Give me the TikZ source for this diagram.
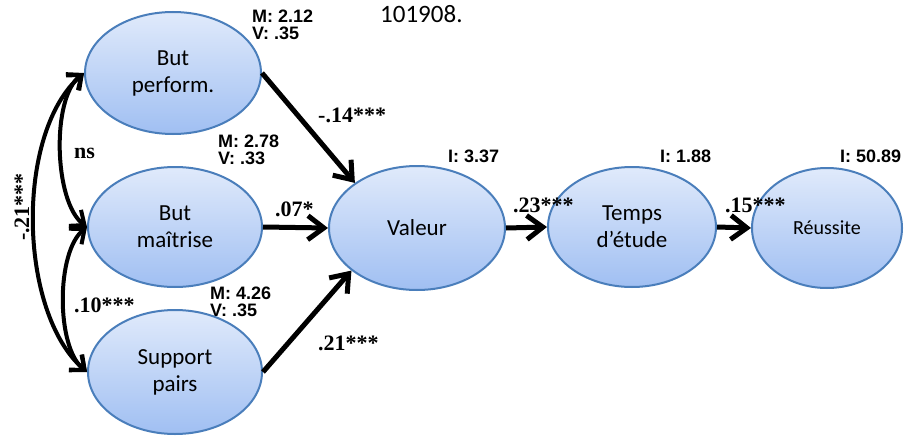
\documentclass[tikz,border=0pt]{standalone}
\usepackage{fontspec}
\setmainfont{Carlito}
\newfontfamily\lsans{Liberation Sans}
\newfontfamily\lserif{Liberation Serif}
\usetikzlibrary{arrows.meta,shapes.geometric}
\definecolor{ellTop}{HTML}{E0EAFB}
\definecolor{ellBot}{HTML}{A0BFF2}
\definecolor{ellLine}{HTML}{4A7EBB}
\begin{document}
\begin{tikzpicture}[x=1pt,y=-1pt,
  latent/.style={ellipse, draw=ellLine, line width=2pt, top color=ellTop, bottom color=ellBot,
    inner sep=0pt, align=center, font=\fontsize{23}{27}\selectfont},
  statlbl/.style={font=\lsans\bfseries\fontsize{18}{17}\selectfont, align=left, inner sep=0pt, anchor=north west},
  coeflbl/.style={font=\lserif\bfseries\fontsize{22}{24}\selectfont, inner sep=0pt, anchor=base west},
  causal/.style={line width=5pt, -{Straight Barb[length=16pt,width=24pt]}},
  covar/.style={line width=4pt, {Straight Barb[length=12pt,width=20pt]}-{Straight Barb[length=12pt,width=20pt]}},
]
\useasboundingbox (0,0) rectangle (904,436);

\node[latent, minimum width=176pt, minimum height=122pt] (bp) at (173,73) {But\\perform.};
\node[latent, minimum width=174pt, minimum height=120pt] (bm) at (175,227) {But\\maîtrise};
\node[latent, minimum width=174pt, minimum height=124pt] (sp) at (175,372) {Support\\pairs};
\node[latent, minimum width=176pt, minimum height=124pt] (val) at (417,228) {Valeur};
\node[latent, minimum width=168pt, minimum height=120pt] (tps) at (632,227) {Temps\\d’étude};
\node[latent, minimum width=150pt, minimum height=120pt, font=\fontsize{20}{24}\selectfont] (reu) at (827,228) {Réussite};

\node[font=\fontsize{25}{30}\selectfont, anchor=base west, inner sep=0pt] (doi) at (380,23) {101908.};

\node[statlbl] (s1) at (252,10) {M: 2.12\\V: .35};
\node[statlbl] (s2) at (218,135) {M: 2.78\\V: .33};
\node[statlbl] (s3) at (210,287) {M: 4.26\\V: .35};
\node[statlbl] (i1) at (448,150) {I: 3.37};
\node[statlbl] (i2) at (660,150) {I: 1.88};
\node[statlbl] (i3) at (840,150) {I: 50.89};

\node[coeflbl] (c1) at (318,122) {-.14***};
\node[coeflbl] (c2) at (275,216) {.07*};
\node[coeflbl] (c3) at (318,350) {.21***};
\node[coeflbl] (c4) at (513,212) {.23***};
\node[coeflbl] (c5) at (725,212) {.15***};
\node[coeflbl] (c6) at (74,158) {ns};
\node[coeflbl] (c7) at (74,312) {.10***};
\node[coeflbl, rotate=90, anchor=base] (c8) at (29,207) {-.21***};

\draw[causal] (bp.east) -- (val.144);
\draw[causal] (bm.east) -- (val.west);
\draw[causal] (sp.east) -- (val.213);
\draw[causal] (val.east) -- (tps.west);
\draw[causal] (tps.east) -- (reu.west);

\draw[covar] (bp.west) .. controls +(-33,25) and +(-33,-25) .. (bm.west);
\draw[covar] (bm.west) .. controls +(-31,25) and +(-31,-25) .. (sp.west);
\draw[covar] (bp.west) .. controls +(-69,60) and +(-69,-60) .. (sp.west);
\end{tikzpicture}
\end{document}
